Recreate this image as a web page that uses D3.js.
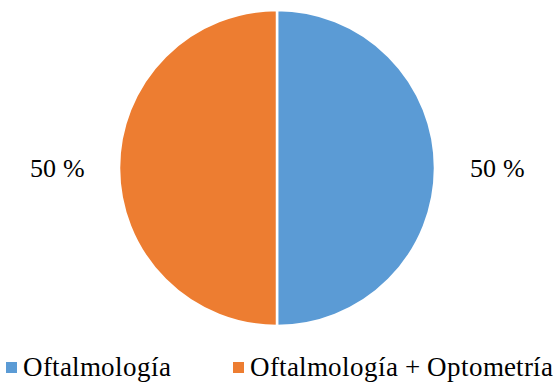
<!DOCTYPE html>
<html><head><meta charset="utf-8"><script src="https://cdn.jsdelivr.net/npm/d3@7"></script>
<style>
  @font-face { font-family: "ChartSerif"; src: local("Liberation Serif"), local("LiberationSerif"), local("Times New Roman"); }
  html, body { margin: 0; padding: 0; background: #fff; }
</style>
</head>
<body>
<svg id="chart" width="555" height="383"></svg>
<script>
// Distribution of consultations by service
const categories = ["Oftalmología", "Oftalmología + Optometría"];
const values = [50, 50];
const valueLabels = ["50 %", "50 %"];
const colors = ["#5B9BD5", "#ED7D31"];

const svg = d3.select("#chart");
const cx = 277, cy = 168, r = 158;

const data = categories.map((c, i) => ({ name: c, value: values[i], label: valueLabels[i], color: colors[i] }));

const pie = d3.pie().value(d => d.value).sort(null);
const arc = d3.arc().innerRadius(0).outerRadius(r);
const arcs = pie(data);

svg.append("g")
  .attr("transform", `translate(${cx},${cy})`)
  .selectAll("path")
  .data(arcs)
  .join("path")
  .attr("d", arc)
  .attr("fill", d => d.data.color)
  .attr("stroke", "#fff")
  .attr("stroke-width", 2.5)
  .attr("stroke-linejoin", "round");

// Value labels placed outside each slice
const labelArc = d3.arc().innerRadius(r + 62).outerRadius(r + 62);
svg.selectAll("text.val")
  .data(arcs)
  .join("text")
  .attr("class", "val")
  .attr("x", d => cx + labelArc.centroid(d)[0])
  .attr("y", d => cy + labelArc.centroid(d)[1] + 9)
  .attr("text-anchor", "middle")
  .attr("font-family", "ChartSerif")
  .style("font-family", "ChartSerif, 'Liberation Serif', serif", "important")
  .attr("font-size", 26)
  .text(d => d.data.label);

// Legend
const legendX = [6, 233];
const legendY = 376;
svg.selectAll("rect.key")
  .data(data)
  .join("rect")
  .attr("class", "key")
  .attr("x", (d, i) => legendX[i]).attr("y", legendY - 14)
  .attr("width", 11).attr("height", 11)
  .attr("fill", d => d.color);
svg.selectAll("text.key")
  .data(data)
  .join("text")
  .attr("class", "key")
  .attr("x", (d, i) => legendX[i] + 17).attr("y", legendY)
  .attr("font-family", "ChartSerif")
  .style("font-family", "ChartSerif, 'Liberation Serif', serif", "important")
  .attr("font-size", 27)
  .text(d => d.name);
</script>
</body></html>
